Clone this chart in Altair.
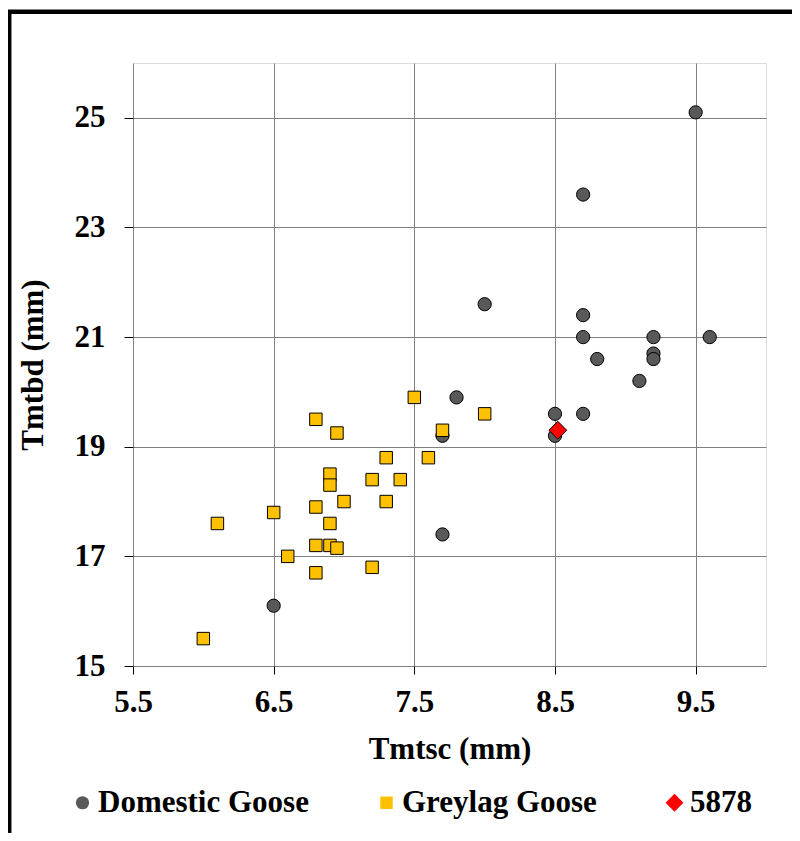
import altair as alt
import pandas as pd

# ---- data ----
domestic_x = [9.5, 8.7, 8.0, 8.7, 8.7, 9.2, 9.6, 8.8, 9.2, 9.2, 9.1, 7.8, 8.5, 8.7, 8.5, 7.7, 7.7, 6.5]
domestic_y = [25.1, 23.6, 21.6, 21.4, 21.0, 21.0, 21.0, 20.6, 20.7, 20.6, 20.2, 19.9, 19.6, 19.6, 19.2, 19.2, 17.4, 16.1]

greylag_x = [6.8, 6.95, 6.9, 6.9, 7.0, 6.8, 6.5, 6.1, 6.9, 6.8, 6.9, 6.95, 6.6, 6.8, 7.2, 6.0,
             7.5, 8.0, 7.7, 7.3, 7.6, 7.2, 7.4, 7.3]
greylag_y = [19.5, 19.25, 18.5, 18.3, 18.0, 17.9, 17.8, 17.6, 17.6, 17.2, 17.2, 17.15, 17.0, 16.7, 16.8, 15.5,
             19.9, 19.6, 19.3, 18.8, 18.8, 18.4, 18.4, 18.0]

specimen_x = [8.52]
specimen_y = [19.3]

groups = ["Domestic Goose", "Greylag Goose", "5878"]
fills = ["#595959", "#FFC000", "#FF0000"]
shapes = ["circle", "square", "diamond"]
sizes = [175, 155, 320]

x_ticks = [5.5, 6.5, 7.5, 8.5, 9.5]
y_ticks = [15, 17, 19, 21, 23, 25]

rows = []
for gx, gy, g in [(domestic_x, domestic_y, groups[0]),
                  (greylag_x, greylag_y, groups[1]),
                  (specimen_x, specimen_y, groups[2])]:
    for a, b in zip(gx, gy):
        rows.append({"x": a, "y": b, "group": g})
df = pd.DataFrame(rows)

FONT = "Liberation Serif"
FS = 31

legend = alt.Legend(
    title=None, orient="none", legendX=-66, legendY=724, direction="horizontal",
    labelFont=FONT, labelFontSize=FS, labelFontWeight="bold", labelColor="black",
    labelOffset=0, columnPadding=62, labelLimit=400, padding=0,
    symbolStrokeColor="black", symbolStrokeWidth=1, symbolOpacity=1,
)

points = alt.Chart(df).mark_point(filled=True, stroke="black", strokeWidth=1, opacity=1).encode(
    x=alt.X("x:Q",
            scale=alt.Scale(domain=[5.5, 10], nice=False, zero=False),
            axis=alt.Axis(values=x_ticks, format=".1f", title="Tmtsc (mm)",
                          labelFont=FONT, labelFontSize=FS, labelFontWeight="bold", labelColor="black",
                          labelBaseline="alphabetic", labelPadding=37, labelFlush=False, labelOverlap=False,
                          tickSize=8, tickColor="black", tickWidth=1, domain=False,
                          grid=True, gridColor="#808080", gridWidth=1,
                          titleFont=FONT, titleFontSize=FS, titleFontWeight="bold", titleColor="black",
                          titleBaseline="alphabetic", titleY=92)),
    y=alt.Y("y:Q",
            scale=alt.Scale(domain=[15, 26], nice=False, zero=False),
            axis=alt.Axis(values=y_ticks, format="d", title="Tmtbd (mm)",
                          labelFont=FONT, labelFontSize=FS, labelFontWeight="bold", labelColor="black",
                          labelPadding=19, labelFlush=False, labelOverlap=False,
                          tickSize=9, tickColor="black", tickWidth=1, domain=False,
                          grid=True, gridColor="#808080", gridWidth=1,
                          titleFont=FONT, titleFontSize=FS, titleFontWeight="bold", titleColor="black",
                          titleAngle=270, titleBaseline="middle", titleAlign="center",
                          titleX=-100, titleY=301.5)),
    color=alt.Color("group:N", scale=alt.Scale(domain=groups, range=fills), legend=legend),
    shape=alt.Shape("group:N", scale=alt.Scale(domain=groups, range=shapes), legend=legend),
    size=alt.Size("group:N", scale=alt.Scale(type="ordinal", domain=groups, range=sizes), legend=legend),
)

frame = alt.Chart(pd.DataFrame({"f": [0]})).mark_rect(
    fill="transparent", stroke="black", strokeWidth=4.5
).encode(
    x=alt.value(-123.8), x2=alt.value(720), y=alt.value(-51.3), y2=alt.value(900)
)

chart = alt.layer(frame, points).properties(
    width=633, height=603,
    autosize=alt.AutoSizeParams(type="none"),
    padding={"left": 125, "top": 55, "right": 26, "bottom": 167},
).configure_view(stroke="black", strokeWidth=2).configure(background="white")

chart.save("out.html", embed_options={"renderer": "svg", "actions": False})
